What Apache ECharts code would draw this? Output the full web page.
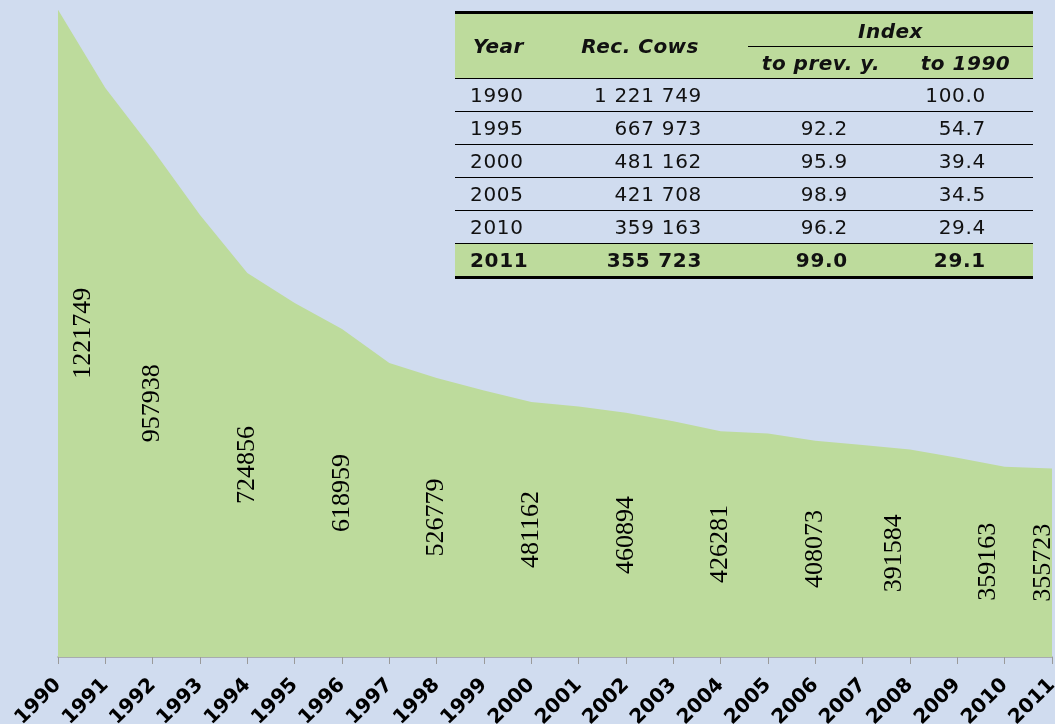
<!DOCTYPE html>
<html>
<head>
<meta charset="utf-8">
<script src="https://cdn.jsdelivr.net/npm/echarts@6/dist/echarts.min.js"></script>
<style>
  html, body { margin: 0; padding: 0; background: #d0dcef; overflow: hidden; }
  #main { width: 1055px; height: 724px; }
  #tbl {
    position: absolute; left: 455px; top: 11px; width: 578px;
    border-collapse: collapse; table-layout: fixed;
    font-family: "DejaVu Sans", sans-serif; font-size: 20px; color: #111;
    letter-spacing: 0.7px;
  }
  #tbl td { padding: 0; white-space: nowrap; }
  #tbl .hd td { background: #bddb9c; font-weight: bold; font-style: italic; letter-spacing: 0.5px; }
  #tbl tr.r td { height: 32px; border-top: 1px solid #000; }
  #tbl tr.last td { background: #bddb9c; font-weight: bold; border-bottom: 3px solid #000; }
</style>
</head>
<body>
<div id="main"></div>
<table id="tbl">
  <colgroup><col style="width:105px"><col style="width:188px"><col style="width:150px"><col style="width:135px"></colgroup>
  <tbody id="tb"></tbody>
</table>
<script>
// reared cows by year
var years = ['1990','1991','1992','1993','1994','1995','1996','1997','1998','1999','2000',
             '2001','2002','2003','2004','2005','2006','2007','2008','2009','2010','2011'];
var cows = [1221749, 1074000, 957938, 834000, 724856, 667973, 618959, 555000, 526779, 503000, 481162,
            473000, 460894, 445000, 426281, 421708, 408073, 400000, 391584, 376000, 359163, 355723];
// years that carry a value label
var labelled = ['1990','1992','1994','1996','1998','2000','2002','2004','2006','2008','2010','2011'];

// table in the corner
var tYear = ['1990','1995','2000','2005','2010','2011'];
var tCows = ['1 221 749','667 973','481 162','421 708','359 163','355 723'];
var tPrev = ['','92.2','95.9','98.9','96.2','99.0'];
var t1990 = ['100.0','54.7','39.4','34.5','29.4','29.1'];

// label nudges (px) so the first/last ones stay inside the area
var nudge = { '1990': 25, '2008': -16, '2010': -16, '2011': -9 };

var tb = document.getElementById('tb');
var h = '<tr class="hd"><td rowspan="2" style="border-top:3px solid #000;border-bottom:1px solid #000;padding-left:18px;height:63px">Year</td>' +
        '<td rowspan="2" style="border-top:3px solid #000;border-bottom:1px solid #000;text-align:right;padding-right:49px">Rec. Cows</td>' +
        '<td colspan="2" style="border-top:3px solid #000;height:31px;text-align:center;vertical-align:middle;padding-top:2px">' +
        '<div style="margin-left:0;border-bottom:1px solid #000;line-height:30px">Index</div></td></tr>' +
        '<tr class="hd"><td style="border-bottom:1px solid #000;height:31px;text-align:center;padding-right:4px">to prev. y.</td>' +
        '<td style="border-bottom:1px solid #000;text-align:center;padding-left:0">to 1990</td></tr>';
for (var i = 0; i < tYear.length; i++) {
  h += '<tr class="r' + (i === tYear.length - 1 ? ' last' : '') + '">' +
       '<td style="padding-left:15px">' + tYear[i] + '</td>' +
       '<td style="text-align:right;padding-right:46px">' + tCows[i] + '</td>' +
       '<td style="text-align:right;padding-right:50px">' + tPrev[i] + '</td>' +
       '<td style="text-align:right;padding-right:47px">' + t1990[i] + '</td></tr>';
}
tb.innerHTML = h;

var myChart = echarts.init(document.getElementById('main'));
var labelData = cows.map(function (v, i) {
  var y = years[i];
  if (labelled.indexOf(y) < 0) return { value: v, label: { show: false } };
  return { value: v, label: { show: true, offset: [0, nudge[y] || 0] } };
});

var option = {
  backgroundColor: '#d0dcef',
  animation: false,
  grid: { left: 58, right: 3, top: 0, bottom: 67, outerBoundsMode: 'none', containLabel: false },
  xAxis: {
    type: 'category',
    boundaryGap: false,
    data: years,
    axisLine: { lineStyle: { color: '#9a9a9a', width: 1.5 } },
    axisTick: { show: true, length: 7, lineStyle: { color: '#9a9a9a' } },
    axisLabel: {
      interval: 0, rotate: 45, margin: 25,
      color: '#000', fontWeight: 'bold', fontSize: 20,
      fontFamily: 'DejaVu Sans'
    }
  },
  yAxis: {
    type: 'value', min: 0, max: 1240000, show: false,
    splitLine: { show: false }
  },
  series: [
    {
      type: 'line',
      data: cows,
      symbol: 'none',
      lineStyle: { width: 0 },
      areaStyle: { color: '#bddb9c', opacity: 1 }
    },
    {
      type: 'bar',
      data: labelData,
      barWidth: 20,
      z: 5,
      itemStyle: { color: 'rgba(0,0,0,0)' },
      label: {
        position: 'inside', rotate: 90,
        color: '#000', fontSize: 26, fontFamily: 'Liberation Serif'
      }
    }
  ]
};
myChart.setOption(option);
</script>
</body>
</html>
